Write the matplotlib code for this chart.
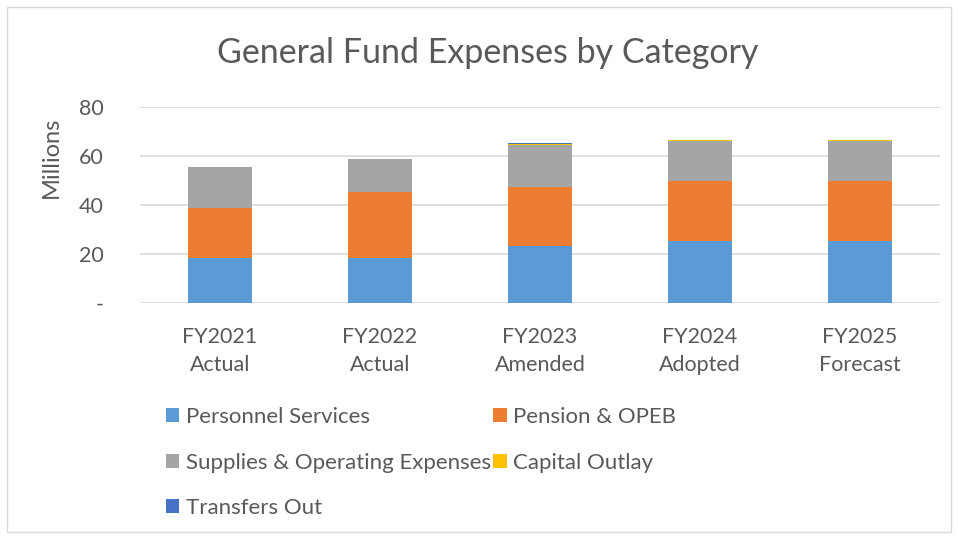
import matplotlib.pyplot as plt
import numpy as np
from matplotlib.patches import Rectangle

plt.rcParams['font.family'] = ['Lato', 'DejaVu Sans']

years = ['FY2021\nActual', 'FY2022\nActual', 'FY2023\nAmended', 'FY2024\nAdopted', 'FY2025\nForecast']
personnel = [18.5, 18.5, 23.3, 25.3, 25.3]
pension = [20.4, 26.9, 24.0, 24.6, 24.6]
supplies = [16.5, 13.4, 17.3, 16.1, 16.1]
capital = [0.0, 0.0, 0.4, 0.5, 0.5]
transfers = [0.0, 0.0, 0.2, 0.0, 0.0]

series = [
    ('Personnel Services', personnel, '#5b9bd5'),
    ('Pension & OPEB', pension, '#ed7d31'),
    ('Supplies & Operating Expenses', supplies, '#a5a5a5'),
    ('Capital Outlay', capital, '#ffc000'),
    ('Transfers Out', transfers, '#4472c4'),
]

fig = plt.figure(figsize=(9.58, 5.36), dpi=100)
ax = fig.add_axes([140 / 958, 233 / 536, 800 / 958, 196 / 536])

x = np.arange(len(years))
bottom = np.zeros(len(years))
handles = {}
for name, vals, color in series:
    b = ax.bar(x, vals, 0.4, bottom=bottom, color=color, label=name, zorder=3)
    handles[name] = b
    bottom += np.array(vals)

ax.set_xlim(-0.5, len(years) - 0.5)
ax.set_ylim(0, 80)
ax.set_yticks([0, 20, 40, 60, 80])
ax.set_yticklabels(['-', '20', '40', '60', '80'])
ax.set_xticks(x)
ax.set_xticklabels(years, linespacing=1.55)
ax.yaxis.grid(True, color='#d9d9d9', linewidth=1.2, zorder=0)
for s in ax.spines.values():
    s.set_visible(False)
ax.tick_params(axis='both', length=0, labelsize=15.5, labelcolor='#595959')
ax.tick_params(axis='y', pad=26)
ax.tick_params(axis='x', pad=17)
ax.set_ylabel('Millions', fontsize=17, color='#595959')
ax.yaxis.set_label_coords(-0.0975, 0.745)

fig.suptitle('General Fund Expenses by Category', x=488 / 958, y=1 - 53 / 536,
             va='center', fontsize=24.5, color='#595959')

order = ['Personnel Services', 'Supplies & Operating Expenses', 'Transfers Out',
         'Pension & OPEB', 'Capital Outlay']
leg = fig.legend([handles[n] for n in order], order, ncol=2, loc='upper left',
                 bbox_to_anchor=(166 / 958, 1 - 407 / 536), frameon=False,
                 borderpad=0, borderaxespad=0,
                 fontsize=16, handlelength=0.6, handleheight=0.6,
                 handletextpad=0.3, columnspacing=0.1, labelspacing=1.15)
for t in leg.get_texts():
    t.set_color('#595959')

fig.patches.append(Rectangle((7 / 958, 4 / 536), 944 / 958, 525 / 536,
                             transform=fig.transFigure, fill=False,
                             edgecolor='#d9d9d9', linewidth=1))

fig.savefig('out.png', dpi=100)
